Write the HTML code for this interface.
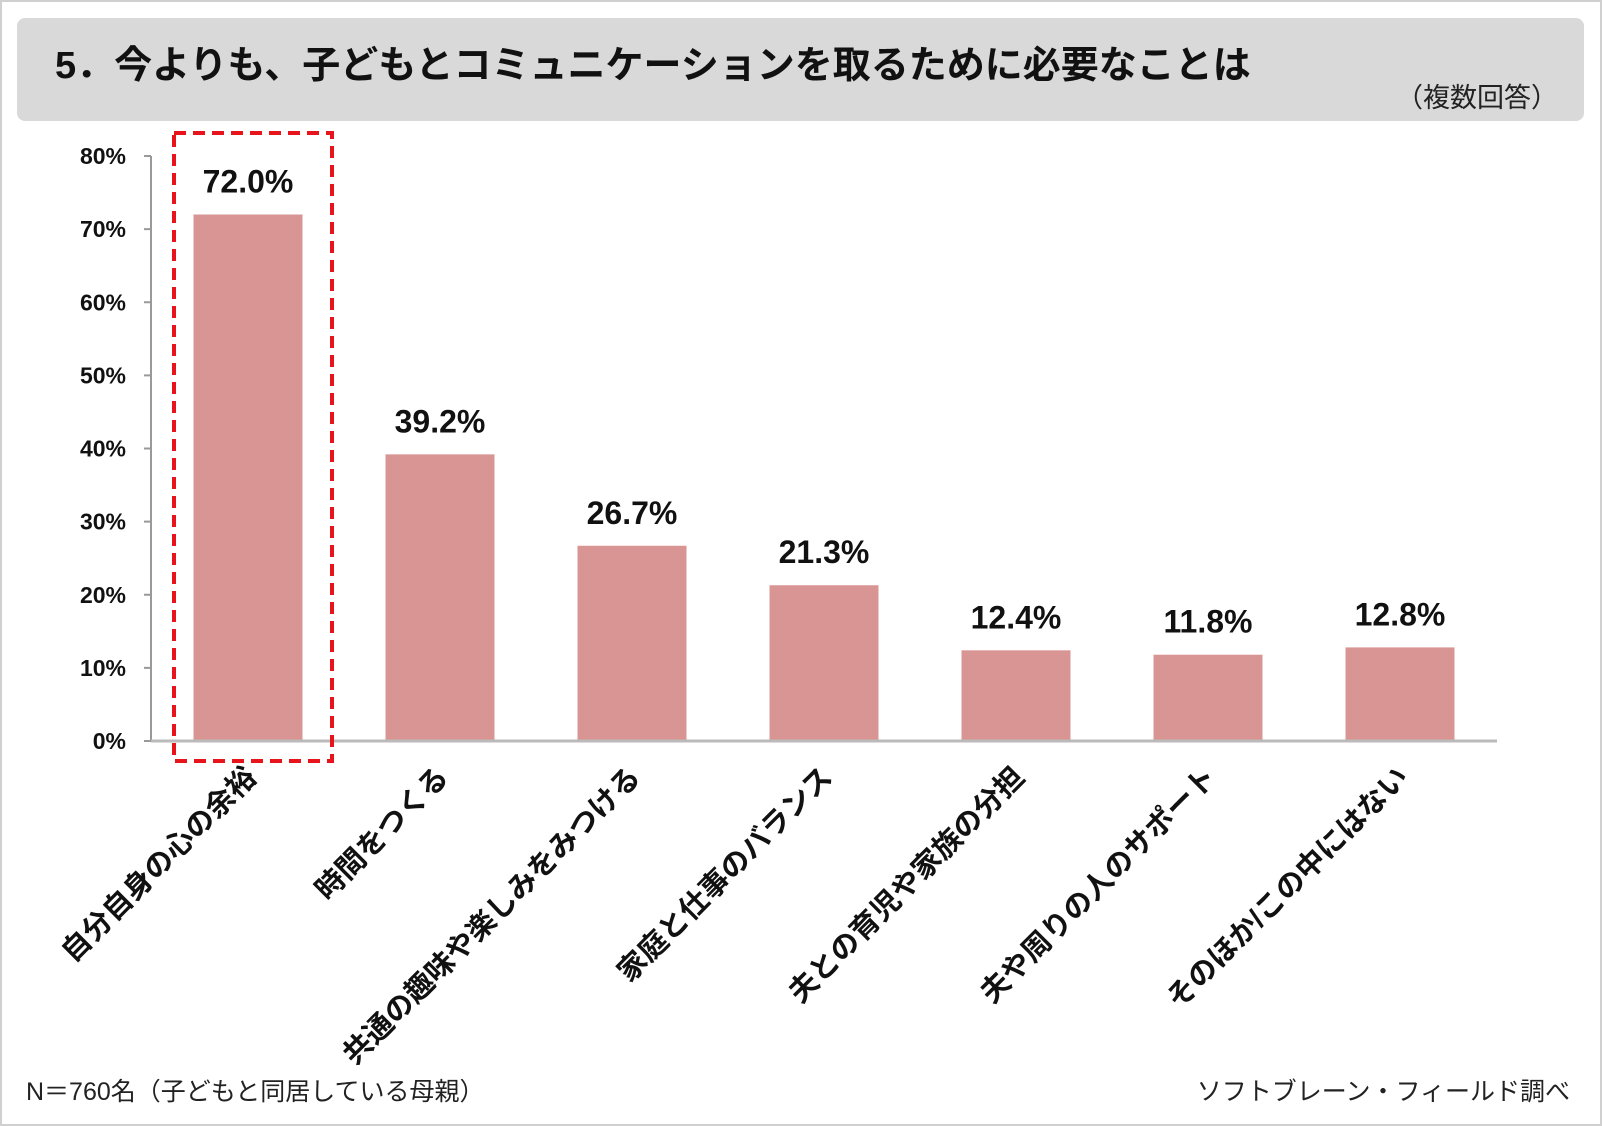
<!DOCTYPE html>
<html><head><meta charset="utf-8"><style>
html,body{margin:0;padding:0;background:#fff;}
svg{display:block;font-family:"Liberation Sans","Noto Sans CJK JP",sans-serif;}
</style></head><body>
<svg id="chart" width="1602" height="1126" viewBox="0 0 1602 1126">
<rect x="1" y="1" width="1600" height="1124" fill="#fff" stroke="#d0d0d0" stroke-width="2"/>
<rect x="17" y="18" width="1567" height="103" rx="8" fill="#d9d9d9"/>
<text x="55" y="78" font-size="38" font-weight="bold" fill="#111">5．今よりも、子どもとコミュニケーションを取るために必要なことは</text>
<text x="1558" y="107" font-size="27" text-anchor="end" fill="#222">（複数回答）</text>
<g id="plot"></g>
<rect x="174" y="133" width="158" height="628" fill="none" stroke="#e8141c" stroke-width="4" stroke-dasharray="12,7"/>
<text x="26" y="1100" font-size="25" fill="#222">N＝760名（子どもと同居している母親）</text>
<text x="1570" y="1100" font-size="25" text-anchor="end" fill="#222">ソフトブレーン・フィールド調べ</text>
</svg>
<script>
const categories=["自分自身の心の余裕","時間をつくる","共通の趣味や楽しみをみつける","家庭と仕事のバランス","夫との育児や家族の分担","夫や周りの人のサポート","そのほか/この中にはない"];
const values=[72.0,39.2,26.7,21.3,12.4,11.8,12.8];
const tickValues=[0,10,20,30,40,50,60,70,80];
const tickLabels=["0%","10%","20%","30%","40%","50%","60%","70%","80%"];
const NS="http://www.w3.org/2000/svg";
const g=document.getElementById('plot');
const x0=151,x1=1497,yBase=741,yTop=156,yMax=80;
const y=v=>yBase-(v/yMax)*(yBase-yTop);
const step=192,first=248,bw=109;
const xc=i=>first+i*step;
function mk(t,a){const e=document.createElementNS(NS,t);for(const k in a)e.setAttribute(k,a[k]);g.appendChild(e);return e;}
let ax=mk('line',{x1:x0,y1:yTop,x2:x0,y2:yBase,stroke:'#999','stroke-width':2});


tickValues.forEach((v,i)=>{
 const t=mk('line',{x1:x0-7,y1:y(v),x2:x0,y2:y(v),stroke:'#999','stroke-width':2});
 
 
 const l=mk('text',{x:126,y:y(v)+8,'font-size':23,'font-weight':'bold','text-anchor':'end',fill:'#111'});
 l.textContent=tickLabels[i];
 
 
});
values.forEach((v,i)=>{
 const r=mk('rect',{x:xc(i)-bw/2,y:y(v),width:bw,height:yBase-y(v),fill:'#d99594'});
 
 
 const t=mk('text',{x:xc(i),y:y(v)-22,'font-size':32,'font-weight':'bold','text-anchor':'middle',fill:'#111'});
 t.textContent=v.toFixed(1)+'%';
 
 
 const c=mk('text',{x:0,y:0,'font-size':29,'font-weight':'bold','text-anchor':'end',fill:'#111',transform:`translate(${xc(i)+10},${yBase+38}) rotate(-45)`});
 c.textContent=categories[i];
 
 
});
let xa=mk('line',{x1:x0,y1:yBase,x2:x1,y2:yBase,stroke:'#bbb','stroke-width':3});


</script>
</body></html>
